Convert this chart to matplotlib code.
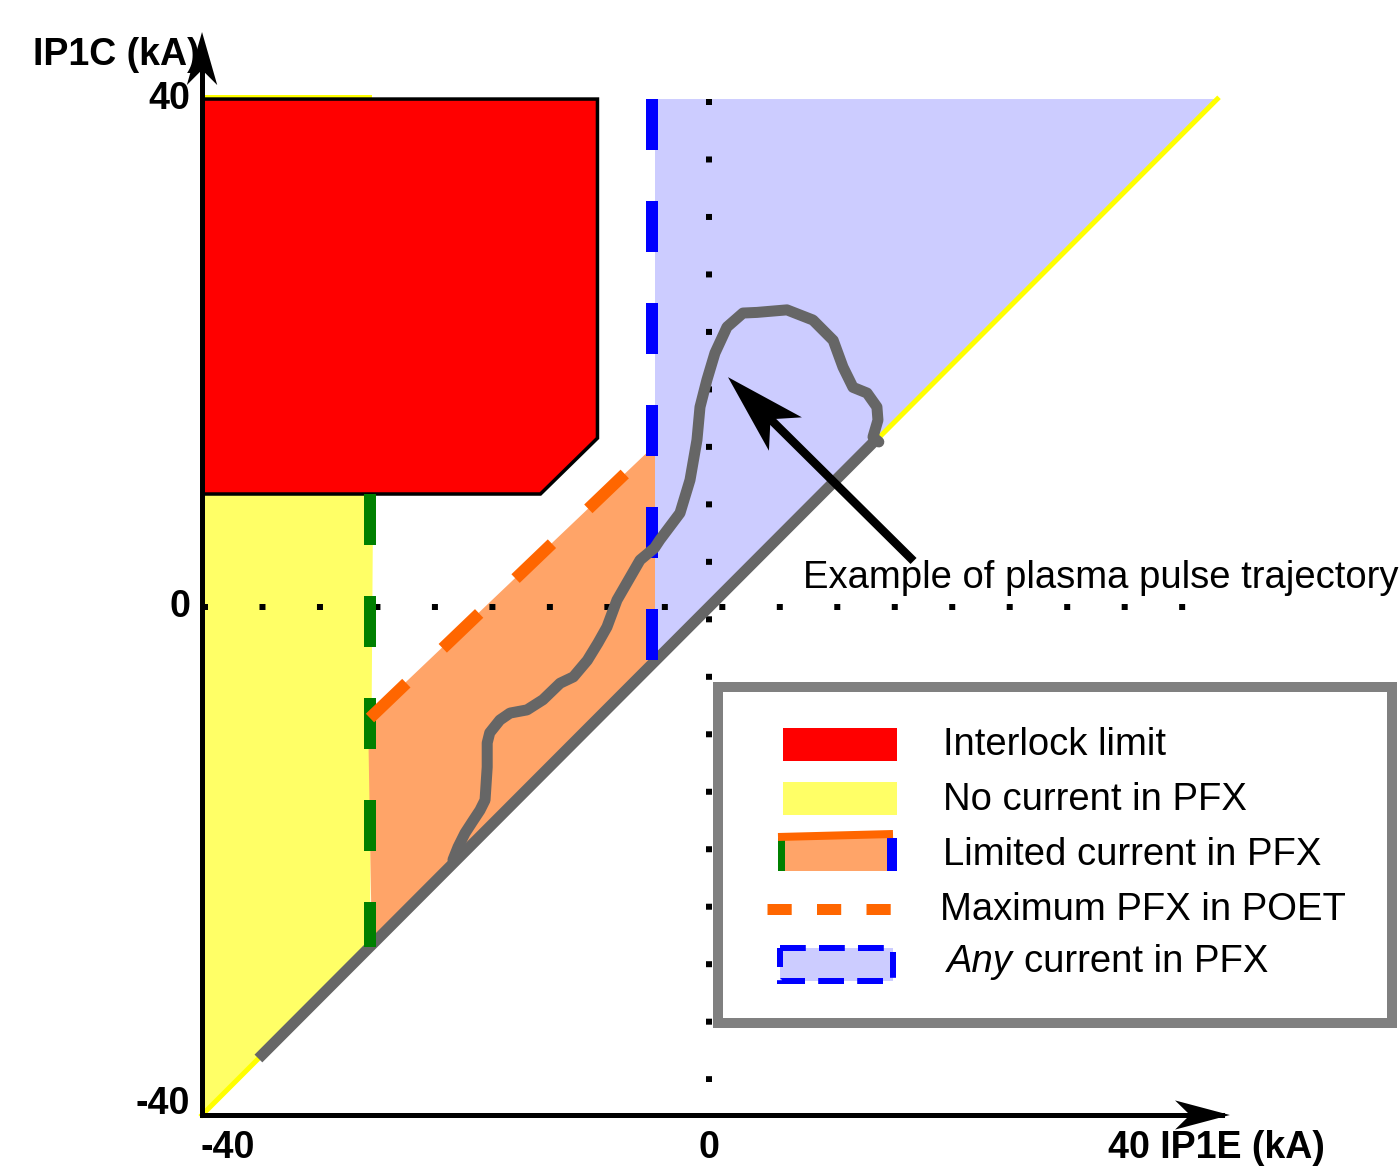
import matplotlib
matplotlib.use('Agg')
import matplotlib.pyplot as plt
from matplotlib.patches import Polygon, Rectangle
import numpy as np

plt.rcParams['font.family'] = ['Liberation Sans', 'DejaVu Sans']

# view window (kA) and axis range
x_lim = (-55.94, 54.52)
y_lim = (-44.33, 47.80)
ax_min, ax_max = -40, 40

# regions (kA)
red_x = [-40, -8.8, -8.8, -13.3, -40]
red_y = [40, 40, 13.3, 8.9, 8.9]
yellow_x = [-40, -26.5, -26.75, -40]
yellow_y = [8.9, 8.9, -26.75, -40]
orange_x = [-26.9, -4.26, -4.26, -26.6]
orange_y = [-8.74, 12.76, -4.26, -26.6]
blue_x = [-4.26, 40.1, -4.26]
blue_y = [40, 40, -4.26]

# limit lines
green_x, green_y = [-26.75, -26.75], [8.9, -26.75]
bluel_x, bluel_y = [-4.5, -4.5], [40, -4.3]
poet_x, poet_y = [-26.75, -4.26], [-8.74, 12.76]
diag_grey = [-35.55, 13.4]

# plasma pulse trajectory (kA)
traj_x = [-20.2, -19.8, -19.25, -18.6, -18.07, -17.67, -17.5, -17.5, -17.3, -16.5,
          -15.7, -14.36, -13.1, -11.75, -10.7, -9.6, -8.76, -8.05, -7.26, -5.44,
          -4.3, -3.87, -2.29, -1.5, -0.95, -0.71, -0.16, 0.47, 1.42, 2.68,
          3.79, 6.15, 8.2, 9.8, 10.57, 11.36, 12.47, 13.25, 13.33, 12.94, 13.4]
traj_y = [-19.9, -18.9, -17.8, -16.8, -16.0, -15.2, -12.6, -10.7, -9.9, -8.9,
          -8.35, -8.1, -7.3, -6.0, -5.5, -4.2, -2.83, -1.57, 0.55, 3.7,
          4.65, 5.3, 7.4, 10.0, 13.15, 15.75, 17.9, 20.0, 22.05, 23.15,
          23.2, 23.4, 22.6, 21.0, 18.9, 17.3, 16.85, 15.75, 14.72, 13.39, 13.0]

ann_tip = (1.5, 18.1)
ann_tail = (15.9, 3.86)

tick_vals = [-40, 0, 40]
legend_labels = ['Interlock limit', 'No current in PFX', 'Limited current in PFX',
                 'Maximum PFX in POET', 'current in PFX']

RED = '#ff0000'
YEL = '#ffff66'
ORA = '#ffa468'
ORA_D = '#ff6600'
GRN = '#008000'
BLU = '#0000ff'
LBL = '#ccccff'
GRY = '#666666'

px = 72 / 100  # points per pixel

fig = plt.figure(figsize=(14, 11.7), dpi=100)
ax = fig.add_axes([0, 0, 1, 1])
ax.set_xlim(*x_lim)
ax.set_ylim(*y_lim)
ax.axis('off')

ax.add_patch(Polygon(list(zip(yellow_x, yellow_y)), closed=True, fc=YEL, ec='none', zorder=1))
ax.add_patch(Polygon(list(zip(orange_x, orange_y)), closed=True, fc=ORA, ec='none', zorder=1))
ax.add_patch(Polygon(list(zip(blue_x, blue_y)), closed=True, fc=LBL, ec='none', zorder=1))

# thin yellow border lines
ax.plot([ax_min, ax_max + 0.1], [ax_min, ax_max], color='#ffff00', lw=5 * px, zorder=2)
ax.plot([ax_min, green_x[0]], [ax_max + 0.25, ax_max + 0.25], color='#ffff00', lw=3 * px, zorder=2)
ax.add_patch(Polygon(list(zip(red_x, red_y)), closed=True, fc=RED, ec='black',
                     lw=3.5 * px, zorder=3))

# dotted zero lines
ax.plot([ax_min, 37.6], [0, 0], color='black', lw=6 * px, ls=(0, (1, 8.58)),
        dash_capstyle='butt', zorder=4)
ax.plot([0, 0], [40, -37.4], color='black', lw=6 * px, ls=(0, (1, 8.58)),
        dash_capstyle='butt', zorder=4)

# diagonal grey
ax.plot(diag_grey, diag_grey, color=GRY, lw=11 * px, solid_capstyle='butt', zorder=5)

# dashed limits
ax.plot(green_x, green_y, color=GRN, lw=12 * px, ls=(0, (4.25, 4.25)), zorder=5)
ax.plot(bluel_x, bluel_y, color=BLU, lw=12 * px, ls=(0, (4.25, 4.25)), zorder=5)
ax.plot(poet_x, poet_y, color=ORA_D, lw=12 * px, ls=(0, (4.2, 4.2)), zorder=5)

# trajectory
ax.plot(traj_x, traj_y, color=GRY, lw=11 * px, solid_joinstyle='round',
        solid_capstyle='round', zorder=6)

# annotation arrow
t = np.array(ann_tip)
s = np.array(ann_tail)
u = (t - s) / np.linalg.norm(t - s)
n = np.array([-u[1], u[0]])
L, W = 6.37, 1.85
notch = t - u * L * 0.74
head = [t, t - u * L + n * W, notch, t - u * L - n * W]
ax.plot([s[0], notch[0]], [s[1], notch[1]], color='black', lw=8.5 * px, zorder=7)
ax.add_patch(Polygon(head, closed=True, fc='black', ec='none', zorder=7))
ax.text(7.4, 2.3, 'Example of plasma pulse trajectory', fontsize=27.5,
        ha='left', va='center', zorder=8)

# axes with arrows
ax.plot([ax_min, ax_min], [ax_min, 44.0], color='black', lw=5 * px, zorder=9)
ax.plot([ax_min, 40.5], [ax_min, ax_min], color='black', lw=5 * px, zorder=9)
ay_tip = 45.28
ax.add_patch(Polygon([(ax_min, ay_tip), (ax_min - 1.2, 41.1), (ax_min, 42.3),
                      (ax_min + 1.2, 41.1)], closed=True, fc='black', ec='none', zorder=9))
axx_tip = 41.1
ax.add_patch(Polygon([(axx_tip, ax_min), (36.77, ax_min + 1.15), (37.95, ax_min),
                      (36.77, ax_min - 1.15)], closed=True, fc='black', ec='none', zorder=9))

# tick labels
for v in tick_vals:
    ax.text(ax_min - 0.95, v + (0.85 if v == -40 else 0), f'{v}', fontsize=27, fontweight='bold',
            ha='right', va='center', zorder=9)
ax.text(-38.0, ax_min - 2.6, '-40', fontsize=27, fontweight='bold', ha='center', va='center')
ax.text(0, ax_min - 2.6, '0', fontsize=27, fontweight='bold', ha='center', va='center')
ax.text(31.5, ax_min - 2.6, '40 IP1E (kA)', fontsize=27, fontweight='bold', ha='left', va='center')
ax.text(-53.3, 43.45, 'IP1C (kA)', fontsize=27, fontweight='bold', ha='left', va='center')

# legend in pixel space
lg = fig.add_axes([0, 0, 1, 1], zorder=10)
lg.set_xlim(0, 1400)
lg.set_ylim(1170, 0)
lg.axis('off')
lg.add_patch(Rectangle((718, 687), 674, 336, fc='white', ec='#808080', lw=10 * px))
lg.add_patch(Rectangle((783, 728), 114, 33, fc=RED, ec='none'))
lg.add_patch(Rectangle((783, 782), 114, 33, fc=YEL, ec='none'))
lg.add_patch(Rectangle((778, 838), 119, 33, fc=ORA, ec='none'))
lg.add_patch(Rectangle((778, 838), 7, 33, fc=GRN, ec='none'))
lg.add_patch(Rectangle((887, 838), 10, 33, fc=BLU, ec='none'))
lg.plot([778, 893], [837, 834], color=ORA_D, lw=8 * px, solid_capstyle='butt')
lg.plot([767, 893], [909, 909], color=ORA_D, lw=11 * px, ls=(0, (2.2, 2.3)))
lg.add_patch(Rectangle((780, 948), 113, 33, fc=LBL, ec=BLU, lw=6 * px, ls=(0, (4.3, 2.2))))

text_x = [943, 943, 943, 940]
text_y = [745, 800, 855, 910]
for lab, tx, ty in zip(legend_labels[:4], text_x, text_y):
    lg.text(tx, ty, lab, fontsize=27.5, ha='left', va='center')
lg.text(947, 962, 'Any', fontsize=27.5, style='italic', ha='left', va='center')
lg.text(1024, 962, legend_labels[4], fontsize=27.5, ha='left', va='center')

fig.savefig('out.png', dpi=100)
